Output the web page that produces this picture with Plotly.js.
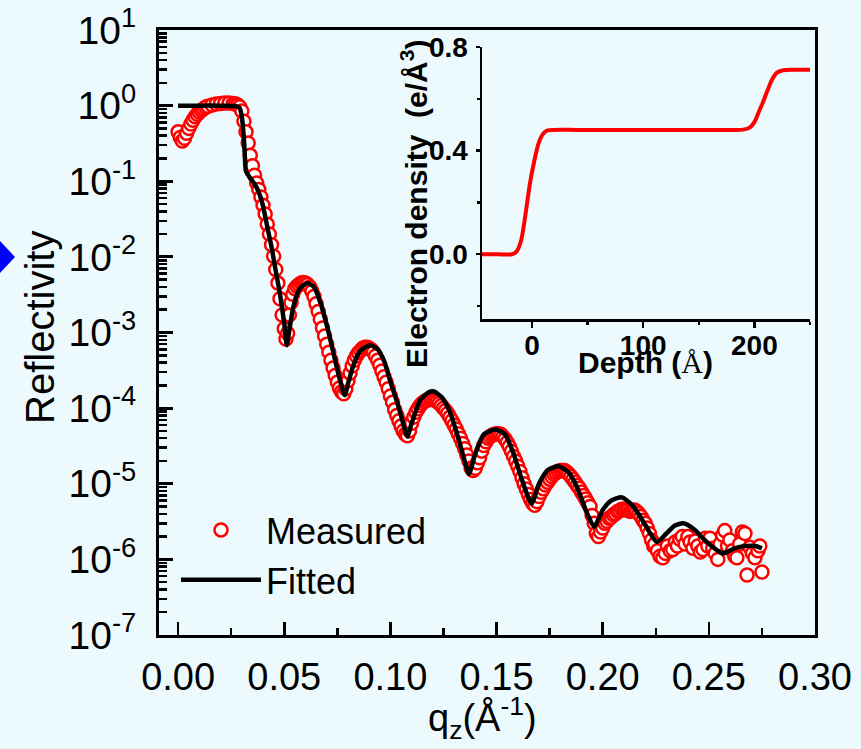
<!DOCTYPE html>
<html>
<head>
<meta charset="utf-8">
<script src="https://cdn.plot.ly/plotly-3.0.1.min.js"></script>
<style>
  html, body { margin: 0; padding: 0; background: #ecfafd; }
  #chart { width: 861px; height: 749px; }
</style>
</head>
<body>
<div id="chart"></div>
<script>
// X-ray reflectivity: measured points and fitted curve (q_z in 1/Å)
const qMeasured = [
  0.000, 0.001, 0.002, 0.003, 0.004, 0.005, 0.006, 0.007, 0.008, 0.009,
  0.010, 0.011, 0.012, 0.013, 0.014, 0.016, 0.018, 0.020, 0.022, 0.024,
  0.026, 0.027, 0.028, 0.029, 0.030, 0.031, 0.032, 0.033, 0.034, 0.035,
  0.036, 0.037, 0.038, 0.039, 0.040, 0.041, 0.042, 0.043, 0.044, 0.045,
  0.046, 0.047, 0.048, 0.049, 0.050, 0.0508, 0.0516, 0.0524, 0.0532, 0.054,
  0.055, 0.056, 0.057, 0.058, 0.059, 0.060, 0.061, 0.062, 0.063, 0.064,
  0.065, 0.066, 0.067, 0.068, 0.069, 0.070, 0.071, 0.072, 0.073, 0.074,
  0.075, 0.076, 0.077, 0.078, 0.079, 0.080, 0.081, 0.082, 0.083, 0.084,
  0.085, 0.086, 0.087, 0.088, 0.089, 0.090, 0.091, 0.092, 0.093, 0.094,
  0.095, 0.096, 0.097, 0.098, 0.099, 0.100, 0.101, 0.102, 0.103, 0.104,
  0.105, 0.106, 0.107, 0.108, 0.109, 0.110, 0.111, 0.112, 0.113, 0.114,
  0.115, 0.116, 0.117, 0.118, 0.119, 0.120, 0.121, 0.122, 0.123, 0.124,
  0.125, 0.126, 0.127, 0.128, 0.129, 0.130, 0.131, 0.132, 0.133, 0.134,
  0.135, 0.136, 0.137, 0.138, 0.139, 0.140, 0.141, 0.142, 0.143, 0.144,
  0.145, 0.146, 0.147, 0.148, 0.149, 0.150, 0.151, 0.152, 0.153, 0.154,
  0.155, 0.156, 0.157, 0.158, 0.159, 0.160, 0.161, 0.162, 0.163, 0.164,
  0.165, 0.166, 0.167, 0.168, 0.169, 0.170, 0.171, 0.172, 0.173, 0.174,
  0.175, 0.176, 0.177, 0.178, 0.179, 0.180, 0.181, 0.182, 0.183, 0.184,
  0.185, 0.186, 0.187, 0.188, 0.189, 0.190, 0.191, 0.192, 0.193, 0.194,
  0.195, 0.196, 0.197, 0.198, 0.199, 0.200, 0.201, 0.202, 0.203, 0.204,
  0.205, 0.206, 0.207, 0.208, 0.209, 0.210, 0.211, 0.212, 0.213, 0.214,
  0.215, 0.216, 0.217, 0.218, 0.219, 0.220, 0.221, 0.222, 0.223, 0.224,
  0.2245, 0.2258, 0.2270, 0.2283, 0.2295, 0.2305, 0.2318, 0.2330, 0.2342, 0.2352,
  0.2363, 0.2375, 0.2388, 0.2401, 0.2412, 0.2425, 0.2436, 0.2448, 0.2460, 0.2472,
  0.2483, 0.2495, 0.2505, 0.2518, 0.2530, 0.2542, 0.2553, 0.2565, 0.2575, 0.2588,
  0.2599, 0.2611, 0.2622, 0.2632, 0.2645, 0.2658, 0.2670, 0.2680, 0.2693, 0.2705,
  0.2717, 0.2731, 0.2740, 0.2750
];
const rMeasured = [
  0.45, 0.38, 0.34, 0.37, 0.43, 0.50, 0.57, 0.64, 0.71, 0.77,
  0.82, 0.87, 0.91, 0.95, 0.98, 1.02, 1.05, 1.07, 1.08, 1.08,
  1.07, 1.05, 1.02, 0.97, 0.85, 0.62, 0.45, 0.32, 0.22, 0.16,
  0.12, 0.095, 0.078, 0.062, 0.048, 0.037, 0.027, 0.020, 0.0145, 0.0102,
  0.0068, 0.0045, 0.0028, 0.0017, 0.00112, 0.00082, 0.00098, 0.0017, 0.0025, 0.0032,
  0.0038, 0.0041, 0.0043, 0.0045, 0.0046, 0.0045, 0.0043, 0.0040, 0.0035, 0.0030,
  0.0024, 0.0019, 0.0015, 0.00115, 0.00090, 0.00070, 0.00055, 0.00043, 0.00034, 0.00027,
  0.00022, 0.000185, 0.000165, 0.000155, 0.00018, 0.00023, 0.00029, 0.00036, 0.00043, 0.00049,
  0.00054, 0.00058, 0.00062, 0.00064, 0.00064, 0.00062, 0.00059, 0.00055, 0.00049, 0.00043,
  0.00037, 0.00031, 0.00026, 0.00022, 0.00018, 0.000145, 0.00012, 0.000095, 0.00008, 0.000068,
  0.000058, 0.00005, 0.000045, 0.000043, 0.00005, 0.000063, 0.000076, 0.000088, 0.000098, 0.000108,
  0.000116, 0.000122, 0.000127, 0.00013, 0.00013, 0.00013, 0.000127, 0.000122, 0.000116, 0.000108,
  0.0001, 0.000093, 0.000085, 0.000076, 0.000068, 0.00006, 0.000053, 0.000046, 0.00004, 0.000034,
  0.000029, 0.000024, 0.00002, 0.000016, 0.000015, 0.000016, 0.000019, 0.000022, 0.000027, 0.000032,
  0.000036, 0.00004, 0.000042, 0.000044, 0.000045, 0.000046, 0.000046, 0.000045, 0.000042, 0.000039,
  0.000035, 0.000031, 0.000027, 0.000023, 0.00002, 0.000017, 0.0000145, 0.000012, 0.00001, 0.0000085,
  0.0000072, 0.0000062, 0.0000055, 0.0000052, 0.0000058, 0.0000068, 0.0000077, 0.0000086, 0.0000096, 0.0000105,
  0.0000115, 0.0000125, 0.0000133, 0.000014, 0.0000145, 0.000015, 0.000015, 0.000015, 0.0000143, 0.0000135,
  0.0000125, 0.0000115, 0.0000105, 0.0000095, 0.0000087, 0.0000078, 0.000007, 0.0000063, 0.0000056, 0.000005,
  0.0000038, 0.000003, 0.0000022, 0.000002, 0.0000023, 0.0000026, 0.000003, 0.0000032, 0.0000035, 0.0000036,
  0.0000039, 0.000004, 0.0000043, 0.0000044, 0.0000046, 0.0000046, 0.0000045, 0.0000045, 0.0000043, 0.0000044,
  0.0000045, 0.0000043, 0.000004, 0.0000037, 0.0000033, 0.000003, 0.0000026, 0.0000022, 0.0000018, 0.0000015,
  1.6e-6, 1.3e-6, 1.1e-6, 1.05e-6, 1.2e-6, 1.5e-6, 1.3e-6, 1.35e-6, 1.7e-6, 1.5e-6,
  1.85e-6, 2.0e-6, 1.6e-6, 2.0e-6, 1.7e-6, 1.4e-6, 1.75e-6, 1.5e-6, 1.25e-6, 1.35e-6,
  1.9e-6, 1.5e-6, 1.9e-6, 1.4e-6, 1.2e-6, 1.0e-6, 1.6e-6, 2.1e-6, 2.4e-6, 1.5e-6,
  1.8e-6, 1.3e-6, 1.1e-6, 1.05e-6, 1.6e-6, 2.3e-6, 2.2e-6, 0.62e-6, 1.45e-6, 1.2e-6,
  1.05e-6, 1.3e-6, 1.5e-6, 0.68e-6
];

const qFitted = [
  0.000, 0.010, 0.020, 0.027, 0.029, 0.030, 0.031, 0.0315, 0.032, 0.034,
  0.036, 0.038, 0.040, 0.042, 0.044, 0.046, 0.048, 0.050, 0.0512, 0.0525,
  0.054, 0.056, 0.058, 0.061, 0.064, 0.067, 0.070, 0.073, 0.076, 0.0785,
  0.080, 0.083, 0.086, 0.0905, 0.094, 0.097, 0.100, 0.104, 0.107, 0.108,
  0.110, 0.114, 0.118, 0.1205, 0.124, 0.128, 0.132, 0.135, 0.137, 0.140,
  0.144, 0.1495, 0.154, 0.158, 0.162, 0.1665, 0.170, 0.174, 0.179, 0.184,
  0.188, 0.192, 0.196, 0.200, 0.204, 0.209, 0.214, 0.219, 0.2255, 0.230,
  0.234, 0.238, 0.243, 0.249, 0.2566, 0.262, 0.267, 0.272, 0.275
];
const rFitted = [
  1.0, 1.0, 1.0, 0.99, 0.93, 0.72, 0.36, 0.20, 0.135, 0.11,
  0.092, 0.072, 0.047, 0.025, 0.0135, 0.0065, 0.0032, 0.0013, 0.00068, 0.00112,
  0.0020, 0.0032, 0.0040, 0.0045, 0.0040, 0.0025, 0.00126, 0.00056, 0.00025, 0.000148,
  0.00021, 0.00040, 0.00058, 0.00068, 0.00060, 0.00042, 0.000224, 0.0001, 0.00005, 0.000042,
  0.000063, 0.000126, 0.000162, 0.000166, 0.000141, 0.000089, 0.00004, 0.00002, 0.0000135, 0.000025,
  0.000045, 0.000052, 0.000045, 0.000025, 0.0000112, 0.0000055, 0.00001, 0.0000151, 0.000017, 0.0000141,
  0.0000089, 0.0000045, 0.0000027, 0.0000045, 0.000006, 0.0000066, 0.0000052, 0.0000032, 0.0000017, 0.0000022,
  0.0000028, 0.000003, 0.0000025, 0.0000017, 0.0000012, 0.0000014, 0.0000015, 0.0000015, 0.0000014
];

// Electron density profile (inset)
const depth = [-45, -30, -18, -14, -10, -6, -2, 2, 6, 10, 14, 20, 40, 100, 160, 190, 196, 200, 204, 208, 212, 216, 220, 226, 235, 250];
const density = [0, 0, 0, 0.01, 0.05, 0.15, 0.27, 0.36, 0.43, 0.465, 0.478, 0.48, 0.48, 0.48, 0.48, 0.481, 0.49, 0.51, 0.55, 0.59, 0.635, 0.675, 0.70, 0.71, 0.712, 0.712];

// Axis ticks
const yTickVals = [1e-7, 1e-6, 1e-5, 1e-4, 1e-3, 1e-2, 1e-1, 1, 10];
const yTickText = ['10<sup>-7</sup>', '10<sup>-6</sup>', '10<sup>-5</sup>', '10<sup>-4</sup>', '10<sup>-3</sup>',
                   '10<sup>-2</sup>', '10<sup>-1</sup>', '10<sup>0</sup>', '10<sup>1</sup>'];
const xTickVals = [0, 0.05, 0.10, 0.15, 0.20, 0.25, 0.30];
const xTickText = ['0.00', '0.05', '0.10', '0.15', '0.20', '0.25', '0.30'];
const insetXTicks = [0, 100, 200];
const insetYTicks = [0.0, 0.4, 0.8];
const insetYText = ['0.0', '0.4', '0.8'];

const yMinor = [];
for (let e = -7; e < 1; e++) for (let d = 2; d <= 9; d++) yMinor.push(d * Math.pow(10, e));
const xMinor = [0.025, 0.075, 0.125, 0.175, 0.225, 0.275];
const xTopTicks = [0, 0.025, 0.05, 0.075, 0.1, 0.125, 0.15, 0.175, 0.2, 0.225, 0.25, 0.275, 0.3];

const BG = '#ecfafd';
const narrow = 'Liberation Sans Narrow, Arial Narrow, Liberation Sans, Arial, sans-serif';
const sans = 'Liberation Sans, Arial, sans-serif';

// plot area in px: left 159, right 815, top 30, bottom 635
const L = 159, R = 815, T = 30, B = 635;
const px = x => (x - L) / (R - L);
const py = y => (B - y) / (B - T);

const traces = [
  {
    x: qMeasured, y: rMeasured, type: 'scatter', mode: 'markers', name: 'Measured',
    marker: { symbol: 'circle', size: 13, color: '#ffffff', line: { color: '#ff0000', width: 2.5 } }
  },
  {
    x: qFitted, y: rFitted, type: 'scatter', mode: 'lines', name: 'Fitted',
    line: { color: '#000000', width: 4.5, shape: 'spline', smoothing: 0.6 }
  },
  {
    x: depth, y: density, type: 'scatter', mode: 'lines', xaxis: 'x2', yaxis: 'y2', showlegend: false,
    line: { color: '#ff0000', width: 4, shape: 'spline', smoothing: 0.8 }
  }
];

const layout = {
  width: 861, height: 749,
  margin: { l: L, r: 861 - R, t: T, b: 749 - B },
  paper_bgcolor: BG, plot_bgcolor: BG,
  showlegend: true,
  legend: {
    x: px(176), y: py(500), xanchor: 'left', yanchor: 'top',
    bgcolor: 'rgba(0,0,0,0)', font: { family: sans, size: 36, color: '#000' },
    itemwidth: 80, tracegroupgap: 0
  },
  xaxis: {
    domain: [0, 1], anchor: 'y', range: [-0.009, 0.30],
    tickmode: 'array', tickvals: xTickVals, ticktext: xTickText,
    ticks: 'inside', ticklen: 13, tickwidth: 2.5, tickcolor: '#000',
    minor: { tickmode: 'array', tickvals: xMinor, ticks: 'inside', ticklen: 7, tickwidth: 2.5, tickcolor: '#000' },
    showline: true, linewidth: 3, linecolor: '#000', mirror: true,
    showgrid: false, zeroline: false, ticklabelstandoff: 6,
    tickfont: { family: narrow, size: 38, color: '#000' }
  },
  yaxis: {
    domain: [0, 1], anchor: 'x', type: 'log', range: [-7, 1],
    tickmode: 'array', tickvals: yTickVals, ticktext: yTickText,
    ticks: 'inside', ticklen: 14, tickwidth: 3, tickcolor: '#000',
    minor: { tickmode: 'array', tickvals: yMinor, ticks: 'inside', ticklen: 8, tickwidth: 2.5, tickcolor: '#000' },
    showline: true, linewidth: 3, linecolor: '#000', mirror: true,
    showgrid: false, zeroline: false, ticklabelstandoff: 12,
    tickfont: { family: narrow, size: 39, color: '#000' }
  },
  xaxis3: {
    overlaying: 'x', anchor: 'y', side: 'top', range: [-0.009, 0.30],
    tickmode: 'array', tickvals: xTopTicks, ticks: 'inside', ticklen: 4, tickwidth: 2, tickcolor: '#000',
    showticklabels: false, showline: false, showgrid: false, zeroline: false
  },
  yaxis3: {
    overlaying: 'y', anchor: 'x', side: 'right', type: 'log', range: [-7, 1],
    tickmode: 'array', tickvals: yTickVals.concat(yMinor), ticks: 'inside', ticklen: 4, tickwidth: 2, tickcolor: '#000',
    showticklabels: false, showline: false, showgrid: false, zeroline: false
  },
  xaxis2: {
    domain: [px(482), px(810)], anchor: 'y2', range: [-45, 250],
    tickmode: 'array', tickvals: insetXTicks,
    ticks: 'outside', ticklen: 6, tickwidth: 2.5, tickcolor: '#000',
    minor: { tickmode: 'array', tickvals: [50, 150, 250], ticks: 'outside', ticklen: 3, tickwidth: 2.5, tickcolor: '#000' },
    showline: true, linewidth: 2.5, linecolor: '#000', showgrid: false, zeroline: false,
    ticklabelstandoff: -6,
    tickfont: { family: sans, size: 28, color: '#000', weight: 'bold' }
  },
  yaxis2: {
    domain: [py(319), py(47)], anchor: 'x2', range: [-0.25, 0.8],
    tickmode: 'array', tickvals: insetYTicks, ticktext: insetYText,
    ticks: 'outside', ticklen: 4, tickwidth: 2.5, tickcolor: '#000',
    minor: { tickmode: 'array', tickvals: [-0.2, 0.2, 0.6], ticks: 'outside', ticklen: 3, tickwidth: 2.5, tickcolor: '#000' },
    showline: true, linewidth: 2.5, linecolor: '#000', showgrid: false, zeroline: false,
    ticklabelstandoff: 2,
    tickfont: { family: sans, size: 28, color: '#000', weight: 'bold' }
  },
  annotations: [
    { text: 'Reflectivity', xref: 'paper', yref: 'paper', x: px(40), y: py(328), textangle: -90,
      showarrow: false, xanchor: 'center', yanchor: 'middle', font: { family: sans, size: 40, color: '#000' } },
    { text: 'q<sub>z</sub>(Å<sup>-1</sup>)', xref: 'paper', yref: 'paper', x: px(482), y: py(718),
      showarrow: false, xanchor: 'center', yanchor: 'middle', font: { family: narrow, size: 38, color: '#000' } },
    { text: '<b>Electron density  (e/Å<sup>3</sup>)</b>', xref: 'paper', yref: 'paper', x: px(414), y: py(204), textangle: -90,
      showarrow: false, xanchor: 'center', yanchor: 'middle', font: { family: sans, size: 30, color: '#000' } },
    { text: '<b>Depth (</b><span style="font-family:Liberation Serif">Å</span><b>)</b>', xref: 'paper', yref: 'paper', x: px(645), y: py(362),
      showarrow: false, xanchor: 'center', yanchor: 'middle', font: { family: sans, size: 30, color: '#000' } }
  ],
  shapes: [
    { type: 'path', xref: 'paper', yref: 'paper', layer: 'above',
      path: 'M ' + px(-15) + ',' + py(257) + ' L ' + px(0) + ',' + py(241) + ' L ' + px(15) + ',' + py(257) +
            ' L ' + px(0) + ',' + py(273) + ' Z',
      fillcolor: '#0000ff', line: { width: 0 } }
  ]
};

Plotly.newPlot('chart', traces, layout, { displayModeBar: false, staticPlot: true });
</script>
</body>
</html>
